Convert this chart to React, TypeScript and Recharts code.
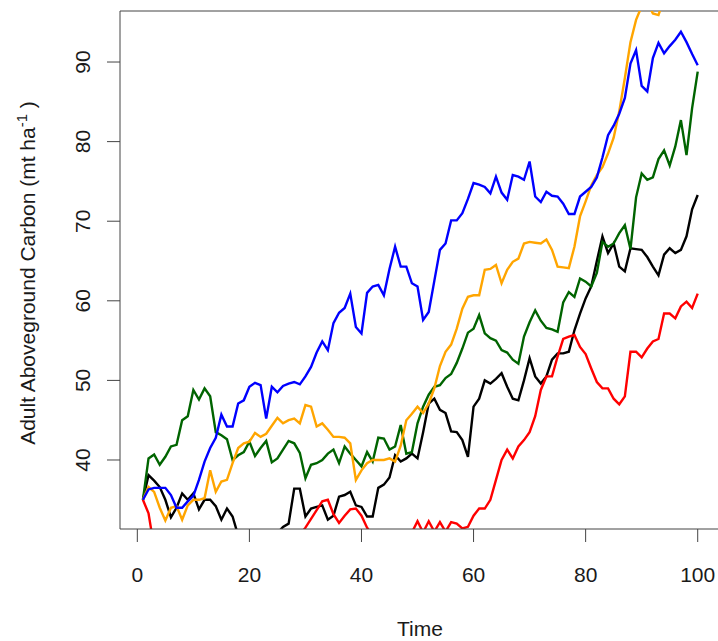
import React from 'react';
import { LineChart, Line, XAxis, YAxis, ReferenceLine } from 'recharts';

// time steps 1..100
const time = Array.from({ length: 100 }, (_, i) => i + 1);

const blue = [
  35.0, 36.3, 36.5, 36.5, 36.5, 35.6, 34.0, 34.0, 34.8, 35.5,
  37.5, 39.8, 41.5, 42.8, 45.7, 44.2, 44.2, 47.1, 47.5, 49.2,
  49.7, 49.4, 45.2, 49.2, 48.5, 49.3, 49.6, 49.8, 49.5, 50.5,
  51.7, 53.5, 54.9, 53.8, 57.2, 58.5, 59.1, 60.9, 56.7, 55.9,
  61.0, 61.8, 62.0, 60.7, 64.0, 66.8, 64.3, 64.3, 62.2, 61.8,
  57.6, 58.6, 62.5, 66.4, 67.2, 70.1, 70.1, 71.0, 72.8, 74.8,
  74.6, 74.3, 73.5, 75.6, 73.6, 72.7, 75.8, 75.6, 75.2, 77.5,
  73.1, 72.4, 73.7, 73.2, 73.1, 72.2, 70.9, 70.9, 73.1, 73.7,
  74.3, 75.5, 78.0, 80.8, 82.0, 83.5, 85.5, 89.8, 91.5, 87.0,
  86.3, 90.5, 92.4, 91.1, 92.0, 92.8, 93.8, 92.5, 91.0, 89.6,
];

const orange = [
  35.0, 36.6, 36.0, 34.0, 32.4, 34.0, 34.2, 32.5, 34.3, 35.0,
  35.0, 35.2, 38.7, 36.0, 37.3, 37.5, 39.6, 41.5, 42.1, 42.3,
  43.4, 42.9, 43.3, 44.3, 45.3, 44.6, 45.0, 45.2, 44.6, 46.9,
  46.7, 44.2, 44.6, 43.8, 42.9, 42.9, 42.8, 42.1, 37.5, 38.7,
  39.6, 40.0, 40.0, 40.0, 40.2, 39.8, 41.8, 45.0, 45.8, 46.7,
  45.9, 47.1, 49.0, 51.8, 53.6, 54.5, 56.5, 59.0, 60.5, 60.7,
  60.7, 63.9, 64.0, 64.5, 62.2, 63.9, 64.9, 65.3, 67.2, 67.4,
  67.3, 67.2, 67.7, 66.4, 64.3, 64.2, 64.1, 66.8, 70.6, 72.5,
  74.5, 75.8, 76.8, 78.5, 80.5, 83.8, 88.0, 92.5, 95.3, 97.0,
  97.5, 96.1, 95.9, 98.0, 98.5, 99.5, 99.0, 100.5, 101.0, 102.0,
];

const green = [
  35.0, 40.2, 40.7, 39.4, 40.4, 41.7, 41.9, 45.0, 45.5, 48.8,
  47.6, 49.0, 48.0, 43.5, 43.1, 42.6, 40.0, 40.6, 41.0, 42.3,
  40.5, 41.5, 42.4, 39.7, 40.2, 41.3, 42.4, 42.1, 40.9, 37.7,
  39.4, 39.6, 40.0, 40.8, 41.3, 39.6, 41.7, 40.8, 40.0, 39.2,
  41.0, 39.8, 42.8, 42.7, 41.3, 41.7, 44.4, 40.8, 41.0, 44.6,
  46.7, 48.2, 49.2, 49.4, 50.3, 50.8, 52.2, 54.0, 56.0, 56.5,
  58.2, 55.9, 55.3, 55.0, 53.8, 53.5, 52.6, 52.1, 55.5, 57.3,
  58.8, 57.5, 56.6, 56.4, 56.1, 59.8, 61.1, 60.5, 62.8, 62.4,
  61.8, 63.5, 67.4, 66.8, 67.2, 68.5, 69.5, 66.5, 73.0, 76.0,
  75.2, 75.5, 77.8, 78.9, 77.0, 79.4, 82.7, 78.3, 84.2, 88.8,
];

const black = [
  35.0, 38.1, 37.4, 36.6, 35.0, 32.8, 34.0, 35.8, 35.0, 35.8,
  33.8, 35.0, 35.0, 34.2, 32.5, 33.9, 32.9, 30.5, 29.8, 29.0,
  29.5, 28.8, 29.4, 30.0, 30.8, 31.6, 32.0, 36.4, 36.4, 32.9,
  33.9, 34.1, 34.3, 32.5, 33.0, 35.4, 35.6, 36.0, 34.3, 34.1,
  32.9, 32.9, 36.5, 36.9, 37.8, 40.6, 39.8, 40.2, 40.8, 40.2,
  43.5, 47.1, 47.7, 46.3, 45.9, 43.6, 43.5, 42.5, 40.4, 46.7,
  47.7, 50.0, 49.6, 50.2, 50.9, 49.2, 47.7, 47.5, 50.0, 52.8,
  50.5, 49.6, 50.5, 52.6, 53.4, 53.4, 53.6, 56.3, 58.4, 60.3,
  61.8, 65.0, 68.1, 66.0, 67.2, 64.3, 63.7, 66.6, 66.5, 66.4,
  65.5, 64.3, 63.2, 65.8, 66.6, 66.0, 66.4, 68.1, 71.5, 73.3,
];

const red = [
  35.0, 33.3, 29.0, 28.5, 28.0, 28.6, 29.2, 28.4, 27.8, 28.3,
  28.9, 29.5, 28.8, 28.2, 27.6, 28.0, 28.7, 29.3, 28.6, 28.1,
  28.9, 29.6, 29.1, 28.5, 29.2, 29.8, 30.3, 29.9, 30.6, 31.5,
  32.6, 33.7, 34.8, 35.0, 33.2, 32.1, 33.0, 33.8, 33.9, 33.0,
  31.5, 30.5, 30.0, 29.6, 29.9, 30.4, 30.1, 30.7, 30.9, 32.3,
  30.9, 32.3, 31.0, 32.2, 31.0, 32.2, 32.0, 31.4, 31.6, 33.0,
  33.9, 33.9, 35.0, 37.5, 40.0, 41.3, 40.2, 41.7, 42.5, 43.5,
  45.5, 48.8, 50.5, 50.5, 53.0, 55.2, 55.5, 55.7, 54.2, 53.3,
  51.5, 49.8, 49.0, 49.0, 47.7, 47.0, 48.0, 53.6, 53.6, 52.9,
  54.0, 54.9, 55.2, 58.4, 58.4, 57.8, 59.3, 59.9, 59.1, 60.9,
];

const xTicks = [0, 20, 40, 60, 80, 100];
const yTicks = [40, 50, 60, 70, 80, 90];
const xDomain = [-3.09, 103.62];
const yDomain = [31.33, 96.41];

const data = time.map((t, i) => ({
  t,
  blue: blue[i],
  orange: orange[i],
  green: green[i],
  black: black[i],
  red: red[i],
}));

const font = '"Liberation Sans", Arial, sans-serif';
const textColor = '#1a1a1a';
const axisColor = '#444';

const YTick = (props: any) => {
  const { x, y, payload } = props;
  return (
    <text
      x={x}
      y={y}
      transform={`rotate(-90 ${x} ${y})`}
      textAnchor="middle"
      fontSize={21}
      fontFamily={font}
      fill={textColor}
    >
      {payload.value}
    </text>
  );
};

const App = () => {
  return (
    <div style={{ position: 'absolute', left: 0, top: 0, width: 718, height: 641, overflow: 'hidden' }}>
      <LineChart width={718} height={641} data={data} margin={{ top: 11, right: 0, bottom: 0, left: 0 }}>
        <XAxis
          dataKey="t"
          type="number"
          domain={xDomain}
          allowDataOverflow
          ticks={xTicks}
          interval={0}
          height={112}
          tickSize={13}
          tickMargin={25}
          stroke={axisColor}
          tick={{ fill: textColor, fontSize: 21, fontFamily: font }}
          label={{
            content: () => (
              <text x={420} y={636} textAnchor="middle" fontSize={21} fontFamily={font} fill={textColor}>
                Time
              </text>
            ),
          }}
        />
        <YAxis
          type="number"
          domain={yDomain}
          allowDataOverflow
          ticks={yTicks}
          interval={0}
          width={120}
          tickSize={13}
          tickMargin={17}
          stroke={axisColor}
          tick={<YTick />}
          label={{
            content: () => (
              <text
                x={35}
                y={273}
                transform="rotate(-90 35 273)"
                textAnchor="middle"
                fontSize={21}
                fontFamily={font}
                fill={textColor}
              >
                Adult Aboveground Carbon (mt ha
                <tspan dy={-8} fontSize={15}>-1</tspan>
                <tspan dy={8}> )</tspan>
              </text>
            ),
          }}
        />
        <ReferenceLine y={yDomain[1]} stroke={axisColor} />
        <Line dataKey="black" stroke="#000000" strokeWidth={2.4} dot={false} activeDot={false} isAnimationActive={false} />
        <Line dataKey="red" stroke="#FF0000" strokeWidth={2.4} dot={false} activeDot={false} isAnimationActive={false} />
        <Line dataKey="green" stroke="#006400" strokeWidth={2.4} dot={false} activeDot={false} isAnimationActive={false} />
        <Line dataKey="orange" stroke="#FFA500" strokeWidth={2.4} dot={false} activeDot={false} isAnimationActive={false} />
        <Line dataKey="blue" stroke="#0000FF" strokeWidth={2.4} dot={false} activeDot={false} isAnimationActive={false} />
      </LineChart>
    </div>
  );
};

export default App;
